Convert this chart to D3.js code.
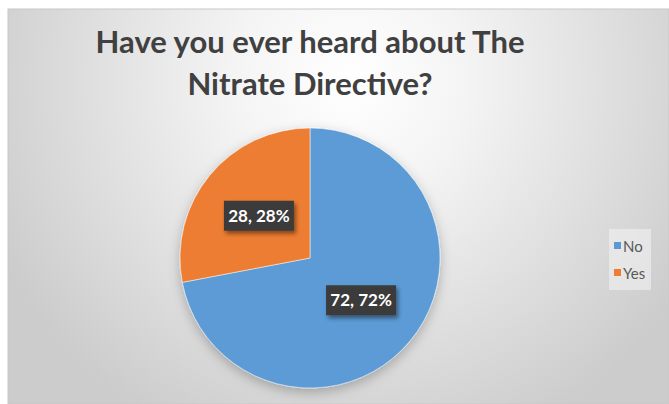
<!DOCTYPE html>
<html>
<head>
<meta charset="utf-8">
<script src="https://cdn.jsdelivr.net/npm/d3@7"></script>
<style>
  body { margin: 0; background: #fff; }
  text { font-family: Lato, "Open Sans", sans-serif; }
</style>
</head>
<body>
<div id="chart"></div>
<script>
// data
const categories = ['No', 'Yes'];
const values = [72, 28];
const percents = ['72%', '28%'];
const colors = ['#5b9bd5', '#ed7d31'];
const titleLines = ['Have you ever heard about The', 'Nitrate Directive?'];

const width = 669, height = 404;

const svg = d3.select('#chart').append('svg')
  .attr('width', width)
  .attr('height', height);

const defs = svg.append('defs');

// background gradient
const bg = defs.append('radialGradient')
  .attr('id', 'bg')
  .attr('gradientUnits', 'userSpaceOnUse')
  .attr('cx', 350).attr('cy', 80).attr('r', 390);
bg.append('stop').attr('offset', '0%').attr('stop-color', '#ffffff');
bg.append('stop').attr('offset', '30%').attr('stop-color', '#f4f4f4');
bg.append('stop').attr('offset', '100%').attr('stop-color', '#cccccc');

// shadows
const pieShadow = defs.append('filter').attr('id', 'pieShadow')
  .attr('x', '-30%').attr('y', '-30%').attr('width', '160%').attr('height', '160%');
pieShadow.append('feDropShadow')
  .attr('dx', 0).attr('dy', 4).attr('stdDeviation', 6)
  .attr('flood-color', '#000').attr('flood-opacity', 0.25);

const labelShadow = defs.append('filter').attr('id', 'labelShadow')
  .attr('x', '-20%').attr('y', '-30%').attr('width', '150%').attr('height', '180%');
labelShadow.append('feDropShadow')
  .attr('dx', 2).attr('dy', 3).attr('stdDeviation', 2)
  .attr('flood-color', '#000').attr('flood-opacity', 0.45);

svg.append('rect')
  .attr('x', 8).attr('y', 9)
  .attr('width', width - 8).attr('height', height - 9)
  .attr('fill', 'url(#bg)')
  .attr('stroke', '#c8c8c8')
  .attr('stroke-width', 1);

// title
svg.append('text')
  .attr('x', 310)
  .attr('y', 53)
  .attr('text-anchor', 'middle')
  .attr('font-weight', 700)
  .attr('font-size', 31)
  .attr('fill', '#404040')
  .selectAll('tspan')
  .data(titleLines)
  .join('tspan')
    .attr('x', 310)
    .attr('dy', (d, i) => i === 0 ? 0 : 42)
    .text(d => d);

// pie
const cx = 310, cy = 258, r = 130;
const pie = d3.pie().sort(null).value(d => d.value);
const arcs = pie(categories.map((c, i) => ({ name: c, value: values[i], pct: percents[i], color: colors[i] })));
const arc = d3.arc().innerRadius(0).outerRadius(r);
const labelArc = d3.arc().innerRadius(r * 0.51).outerRadius(r * 0.51);

const g = svg.append('g').attr('transform', `translate(${cx},${cy})`);

g.append('g')
  .attr('filter', 'url(#pieShadow)')
  .selectAll('path')
  .data(arcs)
  .join('path')
    .attr('d', arc)
    .attr('fill', d => d.data.color)
    .attr('stroke', '#ffffff')
    .attr('stroke-width', 0.5);

// data labels
const labels = g.selectAll('.label')
  .data(arcs)
  .join('g')
    .attr('class', 'label')
    .attr('transform', d => `translate(${labelArc.centroid(d)})`);

labels.append('rect')
  .attr('x', -35).attr('y', -15)
  .attr('width', 70).attr('height', 30)
  .attr('fill', '#3b3b3b')
  .attr('filter', 'url(#labelShadow)');

labels.append('text')
  .attr('text-anchor', 'middle')
  .attr('dy', '0.36em')
  .attr('font-weight', 700)
  .attr('font-size', 17)
  .attr('fill', '#ffffff')
  .text(d => `${d.data.value}, ${d.data.pct}`);

// legend
const legend = svg.append('g').attr('transform', 'translate(609,229)');
legend.append('rect')
  .attr('width', 42).attr('height', 61)
  .attr('fill', '#f2f2f2')
  .attr('opacity', 0.6);

const items = legend.selectAll('.item')
  .data(categories)
  .join('g')
    .attr('class', 'item')
    .attr('transform', (d, i) => `translate(5, ${18 + i * 27})`);

items.append('rect')
  .attr('x', 0).attr('y', -5)
  .attr('width', 7).attr('height', 7)
  .attr('fill', (d, i) => colors[i]);

items.append('text')
  .attr('x', 9)
  .attr('y', 0)
  .attr('dy', '0.32em')
  .attr('font-size', 15)
  .attr('fill', '#595959')
  .text(d => d);
</script>
</body>
</html>
